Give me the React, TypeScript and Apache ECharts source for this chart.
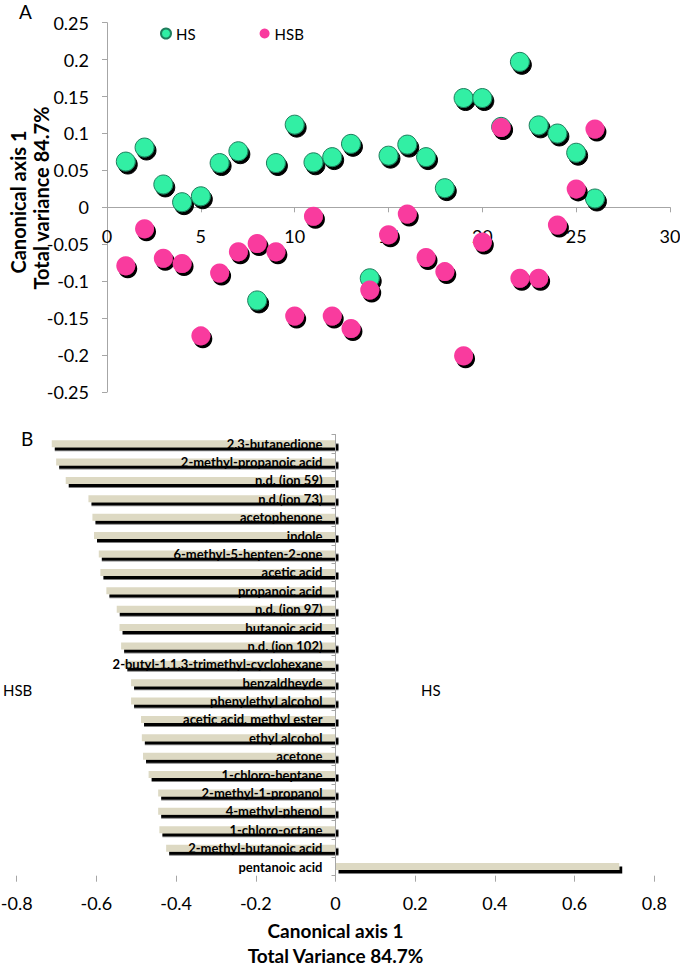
import React, { useEffect, useRef } from "react";
import * as echarts from "echarts";

// Panel A: canonical scores per sample
const sampleIds = [1, 2, 3, 4, 5, 6, 7, 8, 9, 10, 11, 12, 13, 14, 15, 16, 17, 18, 19, 20, 21, 22, 23, 24, 25, 26];
const hsScores = [0.062, 0.081, 0.031, 0.007, 0.015, 0.06, 0.076, -0.126, 0.06, 0.112, 0.061, 0.068, 0.086, -0.096, 0.07, 0.085, 0.068, 0.026, 0.148, 0.148, 0.109, 0.197, 0.111, 0.1, 0.074, 0.012];
const hsbScores = [-0.079, -0.029, -0.069, -0.076, -0.174, -0.089, -0.06, -0.049, -0.06, -0.147, -0.012, -0.147, -0.164, -0.112, -0.037, -0.009, -0.068, -0.087, -0.201, -0.047, 0.108, -0.096, -0.096, -0.024, 0.025, 0.106];

// Panel B: loadings on canonical axis 1
const compounds = [
  "2.3-butanedione",
  "2-methyl-propanoic acid",
  "n.d. (ion 59)",
  "n.d.(ion 73)",
  "acetophenone",
  "indole",
  "6-methyl-5-hepten-2-one",
  "acetic acid",
  "propanoic acid",
  "n.d. (ion 97)",
  "butanoic acid",
  "n.d. (ion 102)",
  "2-butyl-1.1.3-trimethyl-cyclohexane",
  "benzaldheyde",
  "phenylethyl alcohol",
  "acetic acid, methyl ester",
  "ethyl alcohol",
  "acetone",
  "1-chloro-heptane",
  "2-methyl-1-propanol",
  "4-methyl-phenol",
  "1-chloro-octane",
  "2-methyl-butanoic acid",
  "pentanoic acid",
];
const loadings = [-0.712, -0.701, -0.677, -0.62, -0.61, -0.606, -0.594, -0.59, -0.575, -0.549, -0.542, -0.538, -0.53, -0.513, -0.513, -0.488, -0.486, -0.483, -0.469, -0.445, -0.445, -0.442, -0.425, 0.712];

const FONT = "Lato, 'Open Sans', sans-serif";
const AXIS_GREY = "#a6a6a6";
const GREEN = "#30EFA4";
const PINK = "#F93A9E";
const BEIGE = "#DDD9C3";

// layout constants (pixels)
const A_LEFT = 107, A_RIGHT = 670, A_TOP = 22.7, A_BOTTOM = 392, A_ZERO_Y = 207.3;
const B_LEFT = 16.7, B_RIGHT = 654.3, B_TOP = 434.5, B_BOTTOM = 875.7, B_ZERO_X = 335.5;

export default function App() {
  const ref = useRef<HTMLDivElement>(null);

  useEffect(() => {
    if (!ref.current) return;
    const chart = echarts.init(ref.current, null, { renderer: "svg" });

    const hsData = sampleIds.map((x, i) => [x, hsScores[i]]);
    const hsbData = sampleIds.map((x, i) => [x, hsbScores[i]]);

    const option: any = {
      animation: false,
      backgroundColor: "#ffffff",
      textStyle: { fontFamily: FONT },
      legend: {
        left: 155,
        top: 21,
        itemWidth: 10,
        itemHeight: 10,
        itemGap: 64,
        icon: "circle",
        textStyle: { fontSize: 15, color: "#000", fontFamily: FONT },
        itemStyle: { shadowBlur: 0, shadowOffsetX: 0, shadowOffsetY: 0, shadowColor: "transparent" },
        data: ["HS", "HSB"],
      },
      grid: [
        { left: A_LEFT, right: 680 - A_RIGHT, top: A_TOP, bottom: 971 - A_BOTTOM, containLabel: false, outerBoundsMode: "none" },
        { left: B_LEFT, right: 680 - B_RIGHT, top: B_TOP, bottom: 971 - B_BOTTOM, containLabel: false, outerBoundsMode: "none" },
      ],
      xAxis: [
        {
          gridIndex: 0,
          type: "value",
          position: "bottom",
          offset: -(A_BOTTOM - A_ZERO_Y),
          min: 0,
          max: 30,
          interval: 5,
          axisLine: { show: true, onZero: false, lineStyle: { color: AXIS_GREY, width: 1 } },
          axisTick: { show: true, length: 5, lineStyle: { color: AXIS_GREY } },
          axisLabel: { fontSize: 18, color: "#000", margin: 20, fontFamily: FONT },
          splitLine: { show: false },
        },
        {
          gridIndex: 1,
          type: "value",
          min: -0.8,
          max: 0.8,
          interval: 0.2,
          axisLine: { onZero: false, lineStyle: { color: AXIS_GREY, width: 1 } },
          axisTick: { show: true, length: 6, lineStyle: { color: AXIS_GREY } },
          axisLabel: { fontSize: 18, color: "#000", margin: 18, fontFamily: FONT },
          splitLine: { show: false },
          name: "Canonical axis 1\nTotal Variance 84.7%",
          nameLocation: "middle",
          nameGap: 42,
          nameTextStyle: { fontSize: 19, fontWeight: "bold", color: "#000", lineHeight: 25, fontFamily: FONT },
        },
      ],
      yAxis: [
        {
          gridIndex: 0,
          type: "value",
          min: -0.25,
          max: 0.25,
          interval: 0.05,
          axisLine: { show: true, onZero: false, lineStyle: { color: AXIS_GREY, width: 1 } },
          axisTick: { show: true, length: 5, lineStyle: { color: AXIS_GREY } },
          axisLabel: { fontSize: 18, color: "#000", margin: 18, fontFamily: FONT },
          splitLine: { show: false },
        },
        {
          gridIndex: 1,
          type: "category",
          data: compounds,
          inverse: true,
          position: "left",
          offset: -(B_ZERO_X - B_LEFT),
          z: 10,
          axisLine: { show: true, onZero: false, lineStyle: { color: AXIS_GREY, width: 1 } },
          axisTick: { show: true, length: 4, lineStyle: { color: AXIS_GREY } },
          axisLabel: { fontSize: 13, fontWeight: "bold", color: "#000", margin: 13, fontFamily: FONT },
          splitLine: { show: false },
        },
      ],
      series: [
        {
          name: "HS",
          type: "scatter",
          xAxisIndex: 0,
          yAxisIndex: 0,
          data: hsData,
          symbol: "circle",
          symbolSize: 19,
          itemStyle: {
            color: GREEN,
            opacity: 1,
            borderColor: "#1f7d5c",
            borderWidth: 1,
            shadowColor: "#000",
            shadowBlur: 0,
            shadowOffsetX: 2,
            shadowOffsetY: 3,
          },
        },
        {
          name: "HSB",
          type: "scatter",
          xAxisIndex: 0,
          yAxisIndex: 0,
          data: hsbData,
          symbol: "circle",
          symbolSize: 19,
          itemStyle: {
            color: PINK,
            opacity: 1,
            borderColor: PINK,
            borderWidth: 0,
            shadowColor: "#000",
            shadowBlur: 0,
            shadowOffsetX: 2,
            shadowOffsetY: 3,
          },
        },
        {
          name: "loadings",
          type: "bar",
          xAxisIndex: 1,
          yAxisIndex: 1,
          data: loadings,
          barWidth: 7,
          itemStyle: {
            color: BEIGE,
            shadowColor: "#000",
            shadowBlur: 0,
            shadowOffsetX: 3,
            shadowOffsetY: 3.5,
          },
        },
      ],
      graphic: [
        { type: "text", left: 19, top: 2, style: { text: "A", fill: "#000", font: `19px ${FONT}` } },
        { type: "text", left: 21, top: 429, style: { text: "B", fill: "#000", font: `19px ${FONT}` } },
        { type: "text", left: 3, top: 682, style: { text: "HSB", fill: "#000", font: `15px ${FONT}` } },
        { type: "text", left: 421, top: 682, style: { text: "HS", fill: "#000", font: `15px ${FONT}` } },
        {
          type: "text",
          x: 18,
          y: 202,
          rotation: Math.PI / 2,
          style: { text: "Canonical axis 1", fill: "#000", font: `bold 20px ${FONT}`, textAlign: "center", textVerticalAlign: "middle" },
        },
        {
          type: "text",
          x: 41,
          y: 198,
          rotation: Math.PI / 2,
          style: { text: "Total variance 84.7%", fill: "#000", font: `bold 20px ${FONT}`, textAlign: "center", textVerticalAlign: "middle" },
        },
      ],
    };

    chart.setOption(option);
    return () => chart.dispose();
  }, []);

  return (
    <div
      ref={ref}
      style={{ position: "absolute", left: 0, top: 0, width: 680, height: 971, background: "#fff" }}
    />
  );
}
